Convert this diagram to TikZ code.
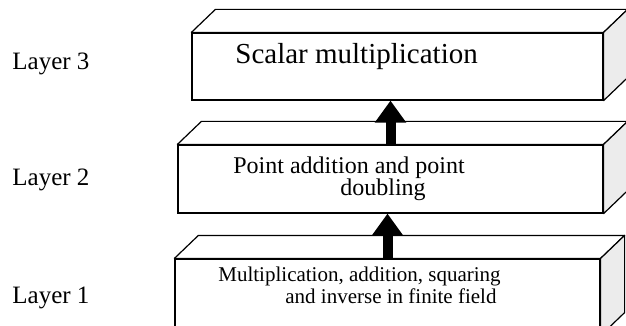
\documentclass[tikz,border=0pt]{standalone}
\usepackage{fontspec}
\setmainfont{Liberation Serif}
\usepackage{tikz}
\usetikzlibrary{calc,arrows.meta}

\begin{document}
\begin{tikzpicture}[x=0.5pt, y=-0.5pt,
  front/.style={draw, line width=0.6pt, fill=white, inner sep=0pt},
  topface/.style={draw, line width=0.6pt, fill=white, line join=round},
  sideface/.style={draw, line width=0.6pt, fill=gray!15, line join=round},
  layerlabel/.style={anchor=base west, inner sep=0pt, font=\fontsize{12.5}{14}\selectfont},
  uparrow/.style={line width=5pt, -{Triangle[width=15pt,length=11pt]}}]
  \useasboundingbox (0,0) rectangle (626,326);
  % box fronts
  \node[front, minimum width=205.5pt, minimum height=33.5pt] (l3) at (397.5,66.5) {};
  \node[front, minimum width=212.5pt, minimum height=34pt] (l2) at (390.5,179) {};
  \node[front, minimum width=212.5pt, minimum height=38pt] (l1) at (387.5,297) {};
  % top and side faces
  \foreach \b in {l1,l2,l3} {
    \draw[topface] (\b.north west) -- ++(24,-23) -- ($(\b.north east)+(24,-23)$) -- (\b.north east) -- cycle;
    \draw[sideface] (\b.north east) -- ++(24,-23) -- ($(\b.south east)+(24,-23)$) -- (\b.south east) -- cycle;
  }
  % texts inside (base = last line)
  \node[anchor=base west, inner sep=0pt, font=\fontsize{14.5}{16}\selectfont] (t3) at (235,64) {Scalar multiplication};
  \node[anchor=base west, inner sep=0pt, align=left, font=\fontsize{12}{11}\selectfont] (t2) at (233,195)
    {Point addition and point\\\hspace*{53.5pt}doubling};
  \node[anchor=base west, inner sep=0pt, align=left, font=\fontsize{10.5}{9}\selectfont] (t1) at (218,303)
    {Multiplication, addition, squaring\\\hspace*{33.5pt}and inverse in finite field};
  % layer names
  \node[layerlabel] (lay3) at (12,70) {Layer 3};
  \node[layerlabel] (lay2) at (12,185) {Layer 2};
  \node[layerlabel] (lay1) at (12,303) {Layer 1};
  % arrows
  \draw[uparrow] (l2.north) -- (l2.north |- l3.south);
  \draw[uparrow] (l1.north) -- (l1.north |- l2.south);
\end{tikzpicture}
\end{document}
